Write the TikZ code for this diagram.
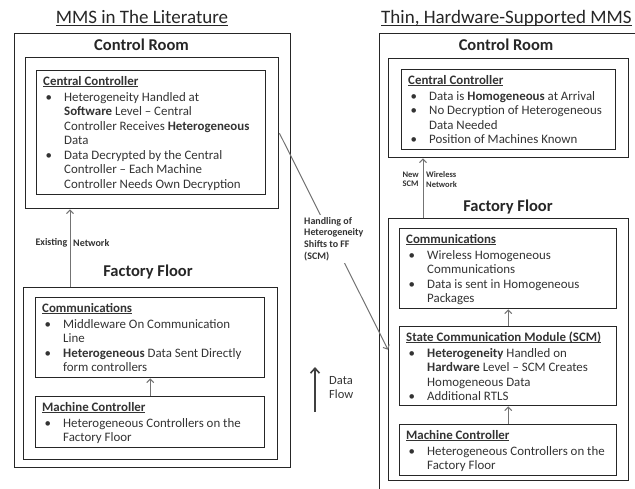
\documentclass[tikz,border=0pt]{standalone}
\usepackage{fontspec}
\setmainfont{Carlito}
\usetikzlibrary{arrows.meta}
\newlength\ulw
\newcommand\ul[2][-1.6pt]{\settowidth\ulw{#2}\rlap{\rule[#1]{\ulw}{0.6pt}}#2}
\newcommand\hd[1]{\ul{\textbf{#1}}}
\newcommand\bu{\makebox[21pt][l]{\hspace{2.5pt}\textbullet}}
\newcommand\hrow[1]{\multicolumn{2}{@{}l@{}}{\hd{#1}}\\[1.5pt]}
\tikzset{
  box/.style={draw=black!85, line width=1.4pt, inner sep=0pt, anchor=north west},
  txt/.style={inner sep=0pt, anchor=north west, font=\fontsize{12.9}{14.5}\selectfont, text=black!80},
  room/.style={font=\bfseries\fontsize{16.5}{19}\selectfont, text=black!85, inner sep=0pt},
  title/.style={font=\fontsize{19}{22}\selectfont, text=black!85, inner sep=0pt},
  lbl/.style={font=\bfseries\fontsize{10}{11.7}\selectfont, text=black!80, inner sep=0pt},
  slbl/.style={font=\bfseries\fontsize{8.5}{9.5}\selectfont, text=black!80, inner sep=0pt},
  conn/.style={draw=black!55, line width=1pt, -{Straight Barb[length=3.5pt,width=7pt]}},
  dflow/.style={draw=black!75, line width=1.6pt, -{Straight Barb[length=5pt,width=9pt]}}
}
\begin{document}
\begin{tikzpicture}[x=1pt,y=-1pt]
\useasboundingbox (0,0) rectangle (635,488);
\clip (0,0) rectangle (635,488);
% titles
\node[title, anchor=base] (t1) at (142,23) {\ul[-2.5pt]{MMS in The Literature}};
\node[title, anchor=base west] (t2) at (381,23) {\ul[-2.5pt]{Thin, Hardware-Supported MMS}};
% ---------- left ----------
\node[box, minimum width=276pt, minimum height=434pt] (LOuter) at (14,33) {};
\node[room] (lcr) at (141.5,45) {Control Room};
\node[box, minimum width=253pt, minimum height=151pt] (LCR) at (25,57) {};
\node[box, minimum width=229pt, minimum height=124pt] (LCC) at (36,70) {};
\node[txt] (LCCt) at (43,75) {\begin{tabular}{@{}l@{}l@{}}
\hrow{Central Controller}
\bu & Heterogeneity Handled at\\
& \textbf{Software} Level – Central\\
& Controller Receives \textbf{Heterogeneous}\\
& Data\\
\bu & Data Decrypted by the Central\\
& Controller – Each Machine\\
& Controller Needs Own Decryption
\end{tabular}};
\node[room] (lff) at (148,272) {Factory Floor};
\node[box, minimum width=254pt, minimum height=172pt] (LFF) at (23,287) {};
\node[box, minimum width=229pt, minimum height=80pt] (LCom) at (35,297) {};
\node[txt] (LComt) at (42,302) {\begin{tabular}{@{}l@{}l@{}}
\hrow{Communications}
\bu & Middleware On Communication\\
& Line\\
\bu & \textbf{Heterogeneous} Data Sent Directly\\
& form controllers
\end{tabular}};
\node[box, minimum width=229pt, minimum height=51pt] (LMC) at (35,396) {};
\node[txt] (LMCt) at (42,401) {\begin{tabular}{@{}l@{}l@{}}
\hrow{Machine Controller}
\bu & Heterogeneous Controllers on the\\
& Factory Floor
\end{tabular}};
\draw[conn] (LMC.north) -- (LCom.south);
\draw[conn] ([xshift=47pt]LFF.north west) -- ([xshift=47pt]LFF.north west |- LCR.south);
\node[lbl, anchor=east] (ex) at (67.5,243) {Existing};
\node[lbl, anchor=west] (nw) at (73,243) {Network};
% ---------- right ----------
\node[box, minimum width=300pt, minimum height=500pt] (ROuter) at (379,33) {};
\node[room] (rcr) at (506,45) {Control Room};
\node[box, minimum width=240pt, minimum height=99pt] (RCR) at (388,58) {};
\node[box, minimum width=214pt, minimum height=80pt] (RCC) at (401,69) {};
\node[txt] (RCCt) at (408,74) {\begin{tabular}{@{}l@{}l@{}}
\hrow{Central Controller}
\bu & Data is \textbf{Homogeneous} at Arrival\\
\bu & No Decryption of Heterogeneous\\
& Data Needed\\
\bu & Position of Machines Known
\end{tabular}};
\node[room] (rff) at (508,207) {Factory Floor};
\node[box, minimum width=240pt, minimum height=262pt] (RFF) at (388,218) {};
\node[box, minimum width=217pt, minimum height=80pt] (RCom) at (399,228) {};
\node[txt] (RComt) at (406,233) {\begin{tabular}{@{}l@{}l@{}}
\hrow{Communications}
\bu & Wireless Homogeneous\\
& Communications\\
\bu & Data is sent in Homogeneous\\
& Packages
\end{tabular}};
\node[box, minimum width=217pt, minimum height=79pt] (RSCM) at (399,326) {};
\node[txt] (RSCMt) at (406,331) {\begin{tabular}{@{}l@{}l@{}}
\hrow{State Communication Module (SCM)}
\bu & \textbf{Heterogeneity} Handled on\\
& \textbf{Hardware} Level – SCM Creates\\
& Homogeneous Data\\
\bu & Additional RTLS
\end{tabular}};
\node[box, minimum width=217pt, minimum height=51pt] (RMC) at (399,424) {};
\node[txt] (RMCt) at (406,429) {\begin{tabular}{@{}l@{}l@{}}
\hrow{Machine Controller}
\bu & Heterogeneous Controllers on the\\
& Factory Floor
\end{tabular}};
\draw[conn] (RMC.north) -- (RSCM.south);
\draw[conn] (RSCM.north) -- (RCom.south);
\draw[conn] ([xshift=35pt]RFF.north west) -- ([xshift=35pt]RFF.north west |- RCR.south);
\node[slbl, anchor=east, align=left] (nscm) at (419,179.5) {New\\SCM};
\node[slbl, anchor=west, align=left] (wnet) at (426,179.5) {Wireless\\Network};
% ---------- middle ----------
\draw[conn] (LCR.east) -- (RFF.west);
\node[lbl, anchor=north west, align=left, fill=white, inner sep=2pt] (hl) at (302,215) {Handling of\\Heterogeneity\\Shifts to FF\\(SCM)};
\coordinate (df0) at (315,412);
\coordinate (df1) at (315,367);
\draw[dflow] (df0) -- (df1);
\node[anchor=north west, align=left, font=\fontsize{12.5}{14}\selectfont, text=black!80, inner sep=0pt] (dft) at (329,376) {Data\\Flow};
\end{tikzpicture}
\end{document}
